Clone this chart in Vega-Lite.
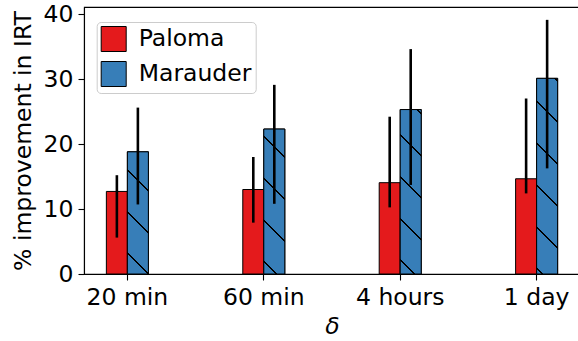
{
  "$schema": "https://vega.github.io/schema/vega-lite/v6.json",
  "width": 496,
  "height": 267,
  "autosize": {"type": "none"},
  "padding": {"left": 84, "top": 7, "right": 0, "bottom": 67},
  "background": "white",
  "config": {
    "font": "DejaVu Sans",
    "view": {"stroke": "black", "strokeWidth": 1.1},
    "axis": {
      "labelFont": "DejaVu Sans",
      "labelFontSize": 23.5,
      "labelColor": "black",
      "titleFont": "DejaVu Sans",
      "titleFontSize": 23.5,
      "titleFontWeight": "normal",
      "titleColor": "black",
      "domainColor": "black",
      "domainWidth": 1.1,
      "tickColor": "black",
      "tickWidth": 1.1,
      "tickSize": 6,
      "labelPadding": 5,
      "grid": false
    }
  },
  "data": {
    "values": [
      {"delta": "20 min", "system": "Paloma", "value": 12.7, "lo": 5.6, "hi": 15.2},
      {"delta": "20 min", "system": "Marauder", "value": 18.8, "lo": 10.7, "hi": 25.6},
      {"delta": "60 min", "system": "Paloma", "value": 13.0, "lo": 7.9, "hi": 18.0},
      {"delta": "60 min", "system": "Marauder", "value": 22.3, "lo": 10.8, "hi": 29.1},
      {"delta": "4 hours", "system": "Paloma", "value": 14.05, "lo": 10.25, "hi": 24.2},
      {"delta": "4 hours", "system": "Marauder", "value": 25.3, "lo": 13.7, "hi": 34.6},
      {"delta": "1 day", "system": "Paloma", "value": 14.65, "lo": 12.4, "hi": 27.0},
      {"delta": "1 day", "system": "Marauder", "value": 30.1, "lo": 16.25, "hi": 39.1}
    ]
  },
  "layer": [
    {
      "mark": {"type": "bar", "stroke": "black", "strokeWidth": 1, "opacity": 1},
      "encoding": {
        "x": {"field": "delta", "type": "nominal", "sort": ["20 min", "60 min", "4 hours", "1 day"],
              "scale": {"paddingInner": 0.692, "paddingOuter": 0.164},
              "axis": {"title": "δ", "titleFontStyle": "italic", "labelAngle": 0, "titlePadding": 6}},
        "xOffset": {"field": "system", "type": "nominal", "sort": ["Paloma", "Marauder"],
                    "scale": {"paddingInner": 0, "paddingOuter": 0}},
        "y": {"field": "value", "type": "quantitative",
              "scale": {"domain": [0, 41.077], "nice": false},
              "axis": {"title": "% improvement in IRT", "values": [0, 10, 20, 30, 40], "titlePadding": 8}},
        "color": {"field": "system", "type": "nominal", "sort": ["Paloma", "Marauder"],
                  "scale": {"domain": ["Paloma", "Marauder"], "range": ["#e41a1c", "#377eb8"]},
                  "legend": {
                    "title": null, "orient": "none", "legendX": 12.7, "legendY": 15,
                    "labelFont": "DejaVu Sans", "labelFontSize": 23.5, "labelColor": "black",
                    "symbolSize": 625, "symbolStrokeWidth": 1, "symbolStrokeColor": "black",
                    "labelOffset": 12, "rowPadding": 5, "padding": 4,
                    "fillColor": "rgba(255,255,255,0.8)", "strokeColor": "#cccccc", "cornerRadius": 4,
                    "encode": {
                      "symbols": {
                        "update": {
                          "shape": {"signal": "datum.label === 'Marauder' ? 'M-1,-0.64L1,-0.64L1,0.64L-1,0.64Z M-0.8,-0.64L0.8,0.64' : 'M-1,-0.64L1,-0.64L1,0.64L-1,0.64Z'"},
                          "stroke": {"value": "black"},
                          "strokeWidth": {"value": 1},
                          "opacity": {"value": 1}
                        }
                      }
                    }
                  }}
      }
    },
    {
      "transform": [{"filter": "datum.delta === '20 min' && datum.system === 'Marauder'"}],
      "mark": {"type": "bar", "stroke": "black", "strokeWidth": 1,
               "fill": {"gradient": "linear", "x1": 0, "y1": 1, "x2": 0.1956, "y2": -0.1383,
                        "stops": [
                          {"offset": 0, "color": "#377eb8"},
                          {"offset": 0.1376, "color": "#377eb8"}, {"offset": 0.1376, "color": "#000000"},
                          {"offset": 0.1515, "color": "#000000"}, {"offset": 0.1515, "color": "#377eb8"},
                          {"offset": 0.4288, "color": "#377eb8"}, {"offset": 0.4288, "color": "#000000"},
                          {"offset": 0.4427, "color": "#000000"}, {"offset": 0.4427, "color": "#377eb8"},
                          {"offset": 0.7200, "color": "#377eb8"}, {"offset": 0.7200, "color": "#000000"},
                          {"offset": 0.7339, "color": "#000000"}, {"offset": 0.7339, "color": "#377eb8"},
                          {"offset": 1, "color": "#377eb8"}
                        ]}},
      "encoding": {
        "x": {"field": "delta", "type": "nominal", "sort": ["20 min", "60 min", "4 hours", "1 day"]},
        "xOffset": {"field": "system", "type": "nominal", "sort": ["Paloma", "Marauder"]},
        "y": {"field": "value", "type": "quantitative"}
      }
    },
    {
      "transform": [{"filter": "datum.delta === '60 min' && datum.system === 'Marauder'"}],
      "mark": {"type": "bar", "stroke": "black", "strokeWidth": 1,
               "fill": {"gradient": "linear", "x1": 0, "y1": 1, "x2": 0.16246, "y2": -0.12134,
                        "stops": [
                          {"offset": 0, "color": "#377eb8"},
                          {"offset": 0.0681, "color": "#377eb8"}, {"offset": 0.0681, "color": "#000000"},
                          {"offset": 0.0801, "color": "#000000"}, {"offset": 0.0801, "color": "#377eb8"},
                          {"offset": 0.3194, "color": "#377eb8"}, {"offset": 0.3194, "color": "#000000"},
                          {"offset": 0.3314, "color": "#000000"}, {"offset": 0.3314, "color": "#377eb8"},
                          {"offset": 0.5707, "color": "#377eb8"}, {"offset": 0.5707, "color": "#000000"},
                          {"offset": 0.5827, "color": "#000000"}, {"offset": 0.5827, "color": "#377eb8"},
                          {"offset": 0.8219, "color": "#377eb8"}, {"offset": 0.8219, "color": "#000000"},
                          {"offset": 0.8340, "color": "#000000"}, {"offset": 0.8340, "color": "#377eb8"},
                          {"offset": 1, "color": "#377eb8"}
                        ]}},
      "encoding": {
        "x": {"field": "delta", "type": "nominal", "sort": ["20 min", "60 min", "4 hours", "1 day"]},
        "xOffset": {"field": "system", "type": "nominal", "sort": ["Paloma", "Marauder"]},
        "y": {"field": "value", "type": "quantitative"}
      }
    },
    {
      "transform": [{"filter": "datum.delta === '4 hours' && datum.system === 'Marauder'"}],
      "mark": {"type": "bar", "stroke": "black", "strokeWidth": 1,
               "fill": {"gradient": "linear", "x1": 0, "y1": 1, "x2": 0.14170, "y2": -0.10960,
                        "stops": [
                          {"offset": 0, "color": "#377eb8"},
                          {"offset": 0.0701, "color": "#377eb8"}, {"offset": 0.0701, "color": "#000000"},
                          {"offset": 0.0809, "color": "#000000"}, {"offset": 0.0809, "color": "#377eb8"},
                          {"offset": 0.2950, "color": "#377eb8"}, {"offset": 0.2950, "color": "#000000"},
                          {"offset": 0.3057, "color": "#000000"}, {"offset": 0.3057, "color": "#377eb8"},
                          {"offset": 0.5198, "color": "#377eb8"}, {"offset": 0.5198, "color": "#000000"},
                          {"offset": 0.5306, "color": "#000000"}, {"offset": 0.5306, "color": "#377eb8"},
                          {"offset": 0.7447, "color": "#377eb8"}, {"offset": 0.7447, "color": "#000000"},
                          {"offset": 0.7555, "color": "#000000"}, {"offset": 0.7555, "color": "#377eb8"},
                          {"offset": 0.9695, "color": "#377eb8"}, {"offset": 0.9695, "color": "#000000"},
                          {"offset": 0.9803, "color": "#000000"}, {"offset": 0.9803, "color": "#377eb8"},
                          {"offset": 1, "color": "#377eb8"}
                        ]}},
      "encoding": {
        "x": {"field": "delta", "type": "nominal", "sort": ["20 min", "60 min", "4 hours", "1 day"]},
        "xOffset": {"field": "system", "type": "nominal", "sort": ["Paloma", "Marauder"]},
        "y": {"field": "value", "type": "quantitative"}
      }
    },
    {
      "transform": [{"filter": "datum.delta === '1 day' && datum.system === 'Marauder'"}],
      "mark": {"type": "bar", "stroke": "black", "strokeWidth": 1,
               "fill": {"gradient": "linear", "x1": 0, "y1": 1, "x2": 0.11750, "y2": -0.09469,
                        "stops": [
                          {"offset": 0, "color": "#377eb8"},
                          {"offset": 0.0212, "color": "#377eb8"}, {"offset": 0.0212, "color": "#000000"},
                          {"offset": 0.0305, "color": "#000000"}, {"offset": 0.0305, "color": "#377eb8"},
                          {"offset": 0.2137, "color": "#377eb8"}, {"offset": 0.2137, "color": "#000000"},
                          {"offset": 0.2229, "color": "#000000"}, {"offset": 0.2229, "color": "#377eb8"},
                          {"offset": 0.4062, "color": "#377eb8"}, {"offset": 0.4062, "color": "#000000"},
                          {"offset": 0.4154, "color": "#000000"}, {"offset": 0.4154, "color": "#377eb8"},
                          {"offset": 0.5987, "color": "#377eb8"}, {"offset": 0.5987, "color": "#000000"},
                          {"offset": 0.6079, "color": "#000000"}, {"offset": 0.6079, "color": "#377eb8"},
                          {"offset": 0.7911, "color": "#377eb8"}, {"offset": 0.7911, "color": "#000000"},
                          {"offset": 0.8004, "color": "#000000"}, {"offset": 0.8004, "color": "#377eb8"},
                          {"offset": 0.9836, "color": "#377eb8"}, {"offset": 0.9836, "color": "#000000"},
                          {"offset": 0.9928, "color": "#000000"}, {"offset": 0.9928, "color": "#377eb8"},
                          {"offset": 1, "color": "#377eb8"}
                        ]}},
      "encoding": {
        "x": {"field": "delta", "type": "nominal", "sort": ["20 min", "60 min", "4 hours", "1 day"]},
        "xOffset": {"field": "system", "type": "nominal", "sort": ["Paloma", "Marauder"]},
        "y": {"field": "value", "type": "quantitative"}
      }
    },
    {
      "mark": {"type": "rule", "color": "black", "strokeWidth": 2.6},
      "encoding": {
        "x": {"field": "delta", "type": "nominal", "sort": ["20 min", "60 min", "4 hours", "1 day"]},
        "xOffset": {"field": "system", "type": "nominal", "sort": ["Paloma", "Marauder"]},
        "y": {"field": "lo", "type": "quantitative"},
        "y2": {"field": "hi"}
      }
    }
  ]
}
